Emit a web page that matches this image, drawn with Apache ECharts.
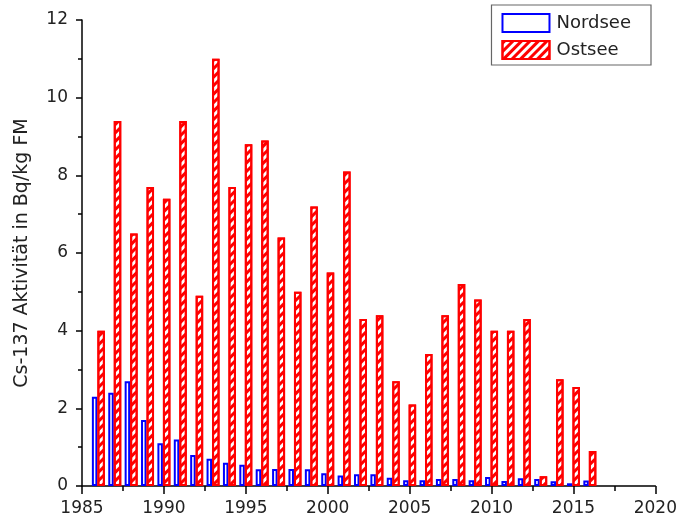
<!DOCTYPE html>
<html>
<head>
<meta charset="utf-8">
<script src="https://cdn.jsdelivr.net/npm/echarts@6/dist/echarts.min.js"></script>
<style>html,body{margin:0;padding:0;background:#fff}#c{width:680px;height:521px}</style>
</head>
<body>
<div id="c"></div>
<script>
var years = [1985,1986,1987,1988,1989,1990,1991,1992,1993,1994,1995,1996,1997,1998,1999,2000,2001,2002,2003,2004,2005,2006,2007,2008,2009,2010,2011,2012,2013,2014,2015,2016,2017,2018,2019,2020];
var nordsee = [null,2.3,2.4,2.7,1.7,1.1,1.2,0.8,0.7,0.6,0.55,0.43,0.44,0.44,0.43,0.33,0.27,0.3,0.3,0.21,0.15,0.15,0.18,0.18,0.15,0.23,0.13,0.2,0.18,0.12,0.07,0.14,null,null,null,null];
var ostsee = [null,4.0,9.4,6.5,7.7,7.4,9.4,4.9,11.0,7.7,8.8,8.9,6.4,5.0,7.2,5.5,8.1,4.3,4.4,2.7,2.1,3.4,4.4,5.2,4.8,4.0,4.0,4.3,0.25,2.75,2.55,0.9,null,null,null,null];
var seriesNames = ['Nordsee','Ostsee'];
var yAxisName = 'Cs-137 Aktivität in Bq/kg FM';

var chart = echarts.init(document.getElementById('c'), null, {renderer:'canvas'});
var font = 'DejaVu Sans, sans-serif';
chart.setOption({
  animation:false,
  backgroundColor:'#fff',
  grid:{left:82,right:24,top:20,bottom:35,containLabel:false},
  legend:{
    right:29, top:5, orient:'vertical',
    data:seriesNames,
    itemWidth:47, itemHeight:18, itemGap:7,
    padding:[8,20,5,10],
    borderColor:'#666', borderWidth:1.2,
    textStyle:{fontFamily:font,fontSize:18,color:'#222',padding:[0,0,0,2]},
    icon:'rect'
  },
  xAxis:[{
    type:'category', data:years.map(String), boundaryGap:false, show:false
  },{
    type:'value', min:1985, max:2020, interval:5, position:'bottom',
    axisLine:{show:true,onZero:false,lineStyle:{color:'#000',width:1.5}},
    axisTick:{show:true,length:8,lineStyle:{color:'#000',width:1.5}},
    minorTick:{show:true,splitNumber:2,length:5,lineStyle:{color:'#000',width:1.5}},
    splitLine:{show:false},
    axisLabel:{fontFamily:font,fontSize:17,color:'#222',margin:14,formatter:function(v){return String(v);}}
  }],
  yAxis:{
    type:'value', min:0, max:12, interval:2,
    name:yAxisName, nameLocation:'middle', nameGap:50,
    nameTextStyle:{fontFamily:font,fontSize:19,color:'#222'},
    axisLine:{show:true,lineStyle:{color:'#000',width:1.5}},
    axisTick:{show:true,length:6,lineStyle:{color:'#000',width:1.5}},
    minorTick:{show:true,splitNumber:2,length:4,lineStyle:{color:'#000',width:1.5}},
    splitLine:{show:false},
    axisLabel:{fontFamily:font,fontSize:17,color:'#222',margin:14}
  },
  series:[{
    name:seriesNames[0], type:'bar', xAxisIndex:0, data:nordsee,
    barWidth:5.5, barGap:'0%',
    itemStyle:{color:'#fff',borderColor:'#0000ff',borderWidth:2}
  },{
    name:seriesNames[1], type:'bar', xAxisIndex:0, data:ostsee,
    barWidth:7.5,
    itemStyle:{color:'#fff',borderColor:'#ff0000',borderWidth:2,
      decal:{symbol:'rect',color:'#ff0000',symbolSize:1,dashArrayX:[1,0],dashArrayY:[3,3],rotation:-Math.PI/4}}
  }]
});
</script>
</body>
</html>
